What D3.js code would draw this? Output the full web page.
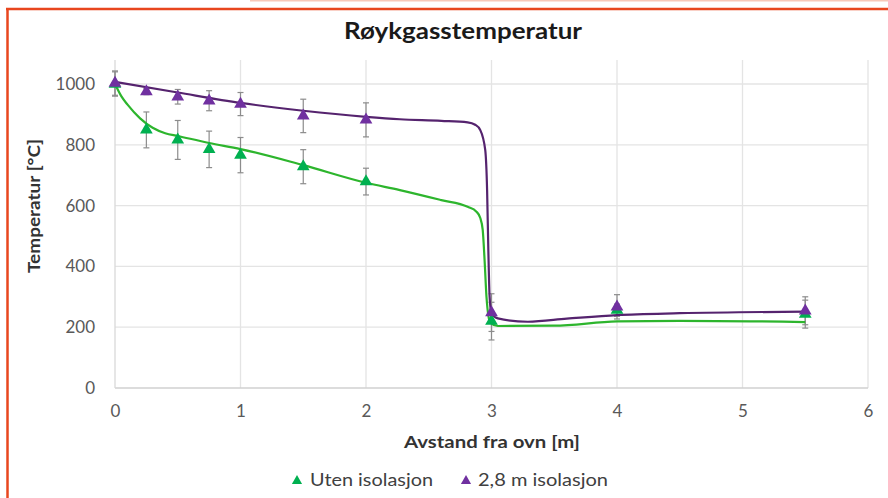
<!DOCTYPE html>
<html><head><meta charset="utf-8">
<script src="https://cdn.jsdelivr.net/npm/d3@7"></script>
<style>body{margin:0;background:#fff;}svg{display:block;}</style>
</head><body>
<svg id="c" width="888" height="498"></svg>
<script>
// Data
const xs = [0, 0.25, 0.5, 0.75, 1, 1.5, 2, 3, 4, 5.5];
const utenVals = [1000, 849, 816, 785, 766, 728, 679, 220, 256, 243];
const utenErr  = [40, 59, 64, 60, 58, 56, 44, 62, 20, 46];
const isoVals  = [1003, 975, 958, 945, 934, 895, 882, 248, 267, 254];
const isoErr   = [40, 10, 24, 33, 38, 55, 56, 62, 40, 46];
// Fitted trend curves
const utenCurveX = [0, 0.05, 0.1, 0.2, 0.3, 0.4, 0.5, 0.75, 1, 1.5, 2, 2.27, 2.6, 2.81, 2.88, 2.91, 2.93, 2.945, 2.96, 2.99, 3.05, 3.5, 4, 4.5, 5.5];
const utenCurveY = [1000, 960, 932, 887, 856, 838, 829, 806, 786, 733, 675, 651, 618, 596, 580, 560, 520, 420, 300, 215, 204, 205, 219, 221, 217];
const isoCurveX = [0, 0.5, 1, 1.5, 2, 2.27, 2.6, 2.81, 2.87, 2.91, 2.95, 2.965, 2.975, 2.985, 3.0, 3.05, 3.29, 3.6, 4, 4.5, 5.5];
const isoCurveY = [1007, 972, 938, 912, 892, 884, 879, 874, 866, 849, 783, 650, 450, 300, 245, 229, 218, 228, 240, 246, 251];
const xTicks = [0, 1, 2, 3, 4, 5, 6];
const yTicks = [0, 200, 400, 600, 800, 1000];
const seriesNames = ["Uten isolasjon", "2,8 m isolasjon"];
const markerColors = ["#00B050", "#7030A0"];
const lineColors = ["#2DB52D", "#55236E"];

const svg = d3.select("#c");
const font = "Lato, 'Open Sans', sans-serif";

// frame
svg.append("line").attr("x1", 250).attr("x2", 888).attr("y1", 0.5).attr("y2", 0.5).attr("stroke", "#F8C8B8").attr("stroke-width", 2);
svg.append("line").attr("x1", 6).attr("x2", 888).attr("y1", 9).attr("y2", 9).attr("stroke", "#E8461E").attr("stroke-width", 2.5);
svg.append("line").attr("x1", 7.5).attr("x2", 7.5).attr("y1", 8).attr("y2", 498).attr("stroke", "#E8461E").attr("stroke-width", 2.5);

const x = d3.scaleLinear().domain([0, 6]).range([115, 868]);
const y = d3.scaleLinear().domain([0, 1000]).range([388, 84]);
const plotTop = 60;

// grid
const g = svg.append("g");
g.selectAll(".vg").data(xTicks.slice(1)).join("line")
  .attr("x1", d => x(d)).attr("x2", d => x(d)).attr("y1", plotTop).attr("y2", y(0))
  .attr("stroke", "#E4E4E4").attr("stroke-width", 1.3);
g.selectAll(".hg").data(yTicks.slice(1)).join("line")
  .attr("x1", x(0)).attr("x2", x(6)).attr("y1", d => y(d)).attr("y2", d => y(d))
  .attr("stroke", "#E4E4E4").attr("stroke-width", 1.3);
g.append("line").attr("x1", x(0)).attr("x2", x(6)).attr("y1", y(0)).attr("y2", y(0)).attr("stroke", "#D0D0D0").attr("stroke-width", 1.3);
g.append("line").attr("x1", x(0)).attr("x2", x(0)).attr("y1", plotTop).attr("y2", y(0)).attr("stroke", "#D9D9D9").attr("stroke-width", 1.3);

// tick labels via axes
const xAxis = svg.append("g").attr("transform", `translate(0,${y(0)})`)
  .call(d3.axisBottom(x).tickValues(xTicks).tickSize(0).tickPadding(17).tickFormat(d3.format("d")));
xAxis.select(".domain").remove();
xAxis.selectAll("text").attr("font-family", font).attr("font-size", 17).attr("fill", "#595959");
const yAxis = svg.append("g").attr("transform", `translate(${x(0)},0)`)
  .call(d3.axisLeft(y).tickValues(yTicks).tickSize(0).tickPadding(20).tickFormat(d3.format("d")));
yAxis.select(".domain").remove();
yAxis.selectAll("text").attr("font-family", font).attr("font-size", 17).attr("fill", "#595959");

// titles
svg.append("text").attr("x", 463).attr("y", 39).attr("text-anchor", "middle")
  .attr("font-family", font).attr("font-weight", "bold").attr("font-size", 23).attr("fill", "#1a1a1a")
  .attr("textLength", 238).attr("lengthAdjust", "spacingAndGlyphs")
  .text("Røykgasstemperatur");
svg.append("text").attr("x", 492).attr("y", 448).attr("text-anchor", "middle")
  .attr("font-family", font).attr("font-weight", "bold").attr("font-size", 17.5).attr("fill", "#333")
  .attr("textLength", 176).attr("lengthAdjust", "spacingAndGlyphs")
  .text("Avstand fra ovn [m]");
svg.append("text").attr("transform", "translate(40,206) rotate(-90)").attr("text-anchor", "middle")
  .attr("font-family", font).attr("font-weight", "bold").attr("font-size", 17.5).attr("fill", "#333")
  .attr("textLength", 134).attr("lengthAdjust", "spacingAndGlyphs")
  .text("Temperatur [°C]");

// error bars
const series = [
  {vals: utenVals, err: utenErr, cx: utenCurveX, cy: utenCurveY},
  {vals: isoVals, err: isoErr, cx: isoCurveX, cy: isoCurveY}
];
series.forEach((s, si) => {
  const eg = svg.append("g").attr("stroke", "#8C8C8C").attr("stroke-width", 1.2);
  xs.forEach((xv, i) => {
    const v = s.vals[i], e = s.err[i];
    eg.append("line").attr("x1", x(xv)).attr("x2", x(xv)).attr("y1", y(v - e)).attr("y2", y(v + e));
    eg.append("line").attr("x1", x(xv) - 3).attr("x2", x(xv) + 3).attr("y1", y(v - e)).attr("y2", y(v - e));
    eg.append("line").attr("x1", x(xv) - 3).attr("x2", x(xv) + 3).attr("y1", y(v + e)).attr("y2", y(v + e));
  });
});
// trend curves
const line = d3.line().x(d => x(d[0])).y(d => y(d[1])).curve(d3.curveMonotoneX);
series.forEach((s, si) => {
  svg.append("path").datum(s.cx.map((d, i) => [d, s.cy[i]]))
    .attr("d", line).attr("fill", "none").attr("stroke", lineColors[si]).attr("stroke-width", 2.2);
});
// markers
const tri = d3.symbol().type(d3.symbolTriangle).size(70);
series.forEach((s, si) => {
  svg.append("g").selectAll("path").data(xs.map((d, i) => [d, s.vals[i]])).join("path")
    .attr("d", tri).attr("transform", d => `translate(${x(d[0])},${y(d[1])})`)
    .attr("fill", markerColors[si]);
});

// legend
const leg = [[297, 310, 123], [466, 478, 130]];
seriesNames.forEach((n, i) => {
  svg.append("path").attr("d", d3.symbol().type(d3.symbolTriangle).size(45)).attr("transform", `translate(${leg[i][0]},${481})`).attr("fill", markerColors[i]);
  svg.append("text").attr("x", leg[i][1]).attr("y", 486).attr("font-family", font).attr("font-size", 17.5).attr("fill", "#404040")
    .attr("textLength", leg[i][2]).attr("lengthAdjust", "spacingAndGlyphs").text(n);
});
</script>
</body></html>
